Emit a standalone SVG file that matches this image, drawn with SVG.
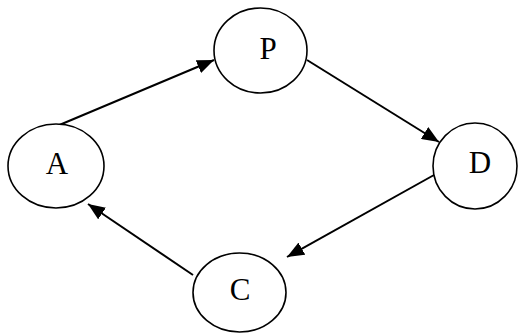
<svg xmlns="http://www.w3.org/2000/svg" width="518" height="333" viewBox="0 0 518 333">
<style>
.node ellipse{fill:#fff;stroke:#000;stroke-width:1.6}
.node text{font-family:"Liberation Serif","Times New Roman",serif;font-size:31px;fill:#000;text-anchor:middle}
.edge{stroke:#000;stroke-width:2;fill:none;marker-end:url(#ah)}
</style>
<defs>
<marker id="ah" markerUnits="userSpaceOnUse" markerWidth="18" markerHeight="14" refX="17" refY="7" orient="auto">
<path d="M0,0 L17,7 L0,14 Z" fill="#000"/>
</marker>
</defs>
<rect width="518" height="333" fill="#fff"/>
<g id="connectors">
<line class="edge" x1="57" y1="126" x2="214" y2="60"/>
<line class="edge" x1="307" y1="60" x2="439" y2="142"/>
<line class="edge" x1="434" y1="175" x2="287" y2="257"/>
<line class="edge" x1="193" y1="275" x2="88" y2="204"/>
</g>
<g id="node-P" class="node"><ellipse cx="260.5" cy="50.5" rx="46.5" ry="42.5"/><text x="268" y="59">P</text></g>
<g id="node-A" class="node"><ellipse cx="56" cy="166" rx="48" ry="42"/><text x="57" y="174">A</text></g>
<g id="node-D" class="node"><ellipse cx="475" cy="166" rx="42" ry="43"/><text x="480" y="173">D</text></g>
<g id="node-C" class="node"><ellipse cx="239.5" cy="292.5" rx="46.5" ry="39.5"/><text x="240" y="300">C</text></g>
</svg>
